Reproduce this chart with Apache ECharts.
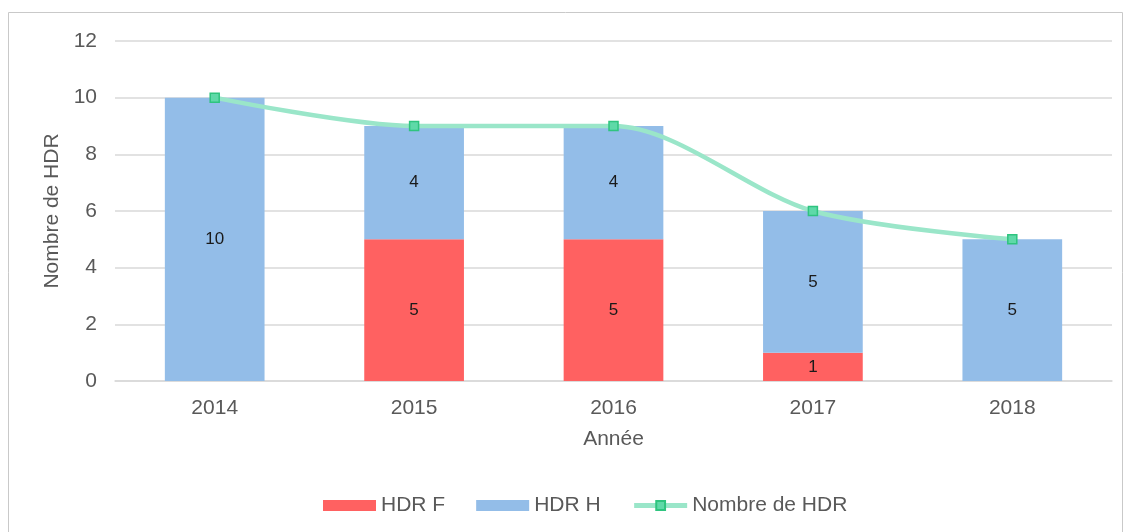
<!DOCTYPE html>
<html>
<head>
<meta charset="utf-8">
<script src="https://cdn.jsdelivr.net/npm/echarts@6/dist/echarts.min.js"></script>
<style>
  html, body { margin: 0; padding: 0; background: #fff; }
  #chart { width: 1131px; height: 532px; }
</style>
</head>
<body>
<div id="chart"></div>
<script>
var annees = ['2014', '2015', '2016', '2017', '2018'];
var hdrF = [0, 5, 5, 1, 0];
var hdrH = [10, 4, 4, 5, 5];
var totalHDR = [10, 9, 9, 6, 5];

var chart = echarts.init(document.getElementById('chart'));
var police = 'Liberation Sans, Arial, sans-serif';

var etiquette = {
  show: true,
  position: 'inside',
  color: '#1a1a1a',
  fontSize: 17,
  fontFamily: police,
  formatter: function (p) { return p.value ? p.value : ''; }
};

var option = {
  animation: false,
  graphic: [{
    type: 'rect',
    shape: { x: 8.5, y: 12.5, width: 1114, height: 530 },
    style: { fill: 'none', stroke: '#c9c9c9', lineWidth: 1 }
  }],
  grid: { left: 115, right: 19, top: 41, bottom: 151 },
  legend: {
    bottom: 11,
    left: 318,
    itemGap: 31,
    itemWidth: 53,
    itemHeight: 11,
    textStyle: { color: '#595959', fontSize: 21, fontFamily: police },
    data: [
      { name: 'HDR F', icon: 'rect' },
      { name: 'HDR H', icon: 'rect' },
      { name: 'Nombre de HDR', lineStyle: { width: 5 } }
    ]
  },
  xAxis: {
    type: 'category',
    data: annees,
    name: 'Année',
    nameLocation: 'middle',
    nameGap: 48,
    nameTextStyle: { color: '#595959', fontSize: 21, fontFamily: police },
    axisLine: { lineStyle: { color: '#d9d9d9', width: 1.5 } },
    axisTick: { show: false },
    axisLabel: { color: '#595959', fontSize: 21, fontFamily: police, margin: 17 }
  },
  yAxis: {
    type: 'value',
    min: 0,
    max: 12,
    interval: 2,
    name: 'Nombre de HDR',
    nameLocation: 'middle',
    nameGap: 52,
    nameTextStyle: { color: '#595959', fontSize: 21, fontFamily: police },
    axisLine: { show: false },
    axisTick: { show: false },
    axisLabel: { color: '#595959', fontSize: 21, fontFamily: police, margin: 18 },
    splitLine: { lineStyle: { color: '#d9d9d9', width: 1.5 } }
  },
  series: [
    {
      name: 'HDR F',
      type: 'bar',
      stack: 'hdr',
      barWidth: '50%',
      data: hdrF,
      itemStyle: { color: '#ff6161' },
      label: etiquette
    },
    {
      name: 'HDR H',
      type: 'bar',
      stack: 'hdr',
      barWidth: '50%',
      data: hdrH,
      itemStyle: { color: '#93bde8' },
      label: etiquette
    },
    {
      name: 'Nombre de HDR',
      type: 'line',
      data: totalHDR,
      smooth: 0.3,
      symbol: 'rect',
      symbolSize: 9,
      lineStyle: { color: '#9ae6c9', width: 4.5 },
      itemStyle: { color: '#5fd9a8', borderColor: '#2fc47f', borderWidth: 1.5 },
      z: 5
    }
  ]
};

chart.setOption(option);
</script>
</body>
</html>
